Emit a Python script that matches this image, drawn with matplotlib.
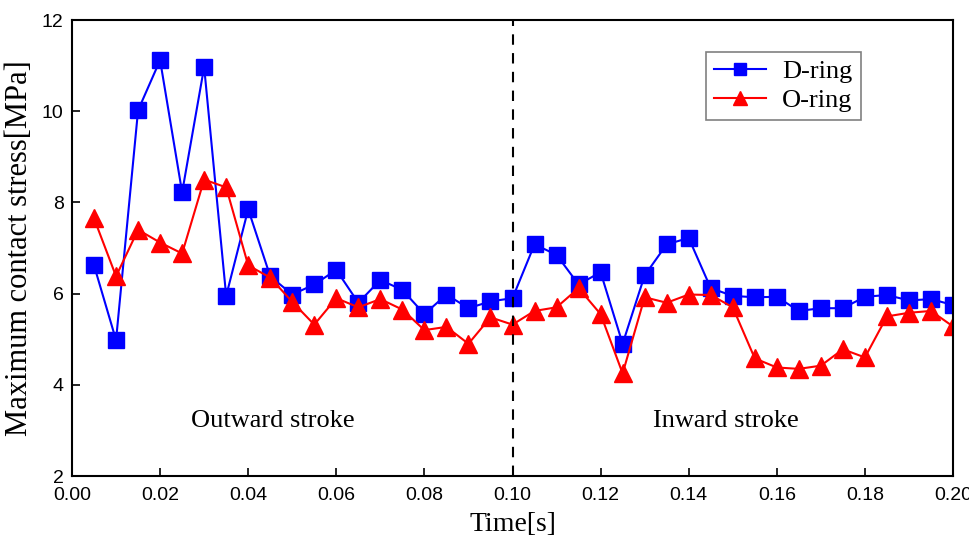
import matplotlib
matplotlib.use('Agg')
import matplotlib.pyplot as plt
import numpy as np

time = np.arange(1, 41) * 0.005

d_ring = [6.62, 4.98, 10.02, 11.12, 8.22, 10.97, 5.95, 7.85, 6.38, 5.98,
          6.20, 6.52, 5.80, 6.30, 6.08, 5.55, 5.98, 5.68, 5.83, 5.90,
          7.08, 6.85, 6.20, 6.47, 4.90, 6.40, 7.08, 7.22, 6.12, 5.95,
          5.92, 5.93, 5.62, 5.68, 5.68, 5.93, 5.97, 5.85, 5.88, 5.75]
o_ring = [7.65, 6.38, 7.40, 7.12, 6.88, 8.50, 8.33, 6.62, 6.35, 5.82,
          5.32, 5.90, 5.70, 5.88, 5.65, 5.20, 5.27, 4.90, 5.48, 5.32,
          5.62, 5.70, 6.12, 5.55, 4.25, 5.92, 5.80, 5.98, 5.97, 5.70,
          4.58, 4.38, 4.35, 4.42, 4.78, 4.60, 5.50, 5.58, 5.62, 5.28]

serif = 'Liberation Serif'
sans = 'Liberation Sans'

fig = plt.figure(figsize=(9.69, 5.38), dpi=100)
ax = fig.add_axes([0.0743, 0.1152, 0.9092, 0.8476])

ax.plot(time, d_ring, color='blue', marker='s', markersize=11, linewidth=1.5, label='D-ring')
ax.plot(time, o_ring, color='red', marker='^', markersize=13, linewidth=1.5, label='O-ring')
ax.axvline(0.1, color='black', linestyle=(0, (5, 4)), linewidth=1.5)

ax.set_xlim(0, 0.2)
ax.set_ylim(2, 12)
xt = np.arange(0, 0.201, 0.02)
ax.set_xticks(xt)
ax.set_xticklabels(['%.2f' % v for v in xt], fontfamily=sans, fontsize=14)
ax.set_yticks([2, 4, 6, 8, 10, 12])
ax.set_yticklabels(['2', '4', '6', '8', '10', '12'], fontfamily=sans, fontsize=14)
ax.tick_params(direction='in', length=6, width=1.2)
ax.tick_params(axis='x', pad=8)
ax.tick_params(axis='y', pad=6)
for s in ax.spines.values():
    s.set_linewidth(1.5)

ax.set_xlabel('Time[s]', fontfamily=serif, fontsize=20, labelpad=6)
ax.set_ylabel('Maximum contact stress[MPa]', fontfamily=serif, fontsize=22, labelpad=6)

ax.text(0.0456, 3.2, 'Outward stroke', fontfamily=serif, fontsize=19, ha='center', va='center')
ax.text(0.1485, 3.2, 'Inward stroke', fontfamily=serif, fontsize=19, ha='center', va='center')

leg = ax.legend(loc='upper right', bbox_to_anchor=(0.895, 0.93), borderaxespad=0,
                prop={'family': serif, 'size': 19},
                fancybox=False, edgecolor='gray', framealpha=1, handlelength=2.0,
                markerscale=0.8, borderpad=0.3, labelspacing=0.2, handletextpad=0.6)
leg.get_frame().set_linewidth(1.2)

fig.savefig('out.png', dpi=100)
